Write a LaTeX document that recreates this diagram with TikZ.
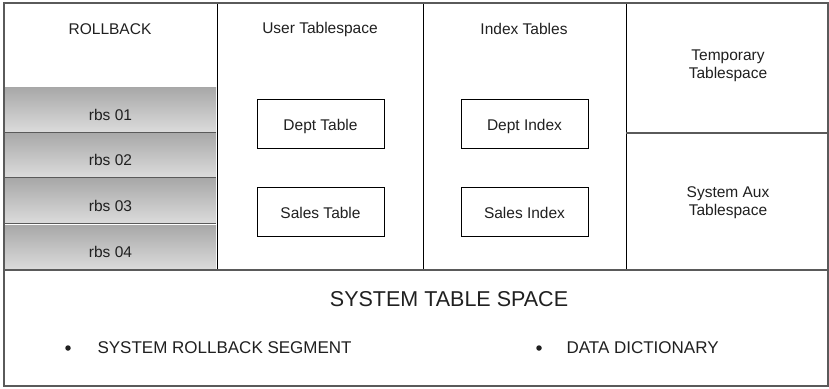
\documentclass[tikz,border=0pt]{standalone}
\usepackage{fontspec}
\setmainfont{Liberation Sans}
\definecolor{framegray}{HTML}{5A5A5A}
\definecolor{rbstop}{HTML}{A8A8A8}
\definecolor{rbsbottom}{HTML}{DCDCDC}
\definecolor{inktext}{HTML}{202020}
\begin{document}
\begin{tikzpicture}[x=1pt,y=-1pt,
  every node/.style={text=inktext, font=\fontsize{15.5}{18}\selectfont},
  frameline/.style={draw=framegray, line width=1.4pt},
  divider/.style={draw=black, line width=0.9pt},
  segbar/.style={draw=none, minimum width=211pt, minimum height=45pt,
    inner sep=0pt, top color=rbstop, bottom color=rbsbottom, shading angle=0},
  seglabel/.style={yshift=-4.5pt},
  segline/.style={draw=framegray, line width=1.2pt},
  tablebox/.style={draw=black, line width=0.9pt, fill=white,
    minimum width=127pt, minimum height=49pt, inner sep=0pt,
    text height=16pt, text depth=3pt},
  heading/.style={align=center, font=\fontsize{15.5}{18}\selectfont},
  bigtitle/.style={font=\fontsize{21.5}{26}\selectfont},
  bullettext/.style={anchor=west, font=\fontsize{17}{20}\selectfont},
  dot/.style={circle, fill=inktext, inner sep=0pt, minimum size=5.5pt}]
\useasboundingbox (0,0) rectangle (829,388);
\fill[white] (0,0) rectangle (829,388);

% rollback segments
\node[segbar] (rbs1) at (110.5,110) {};
\node[segbar] (rbs2) at (110.5,155) {};
\node[segbar] (rbs3) at (110.5,201) {};
\node[segbar] (rbs4) at (110.5,247.5) {};
\node[seglabel] (rbs1t) at (rbs1) {rbs 01};
\node[seglabel] (rbs2t) at (rbs2) {rbs 02};
\node[seglabel] (rbs3t) at (rbs3) {rbs 03};
\node[seglabel] (rbs4t) at (rbs4) {rbs 04};
\draw[segline] (rbs1.south west) -- (rbs1.south east);
\draw[segline] (rbs2.south west) -- (rbs2.south east);
\draw[segline] (rbs3.south west) -- (rbs3.south east);

% column dividers
\draw[divider] (217,3) -- (217,270);
\draw[divider] (423,3) -- (423,270);
\draw[divider] (626,3) -- (626,270);
\draw[draw=framegray, line width=1.1pt] (626,133) -- (828,133);

% outer frame and system table space separator
\draw[frameline] (4,3) rectangle (828,386);
\draw[frameline] (4,270) -- (828,270);

% headings
\node[heading] (rollback) at (110,29) {ROLLBACK};
\node[heading] (usertbs) at (320,29) {User Tablespace};
\node[heading] (idxtbs) at (524,29) {Index Tables};
\node[heading] (temptbs) at (728,66) {Temporary\\Tablespace};
\node[heading] (auxtbs) at (728,203) {System Aux\\Tablespace};

% tables and indexes
\node[tablebox] (dept) at (320.5,123.5) {Dept Table};
\node[tablebox] (sales) at (320.5,212) {Sales Table};
\node[tablebox] (deptidx) at (524.5,123.5) {Dept Index};
\node[tablebox] (salesidx) at (524.5,212) {Sales Index};

% system table space
\node[bigtitle] (systbs) at (449,299) {SYSTEM TABLE SPACE};
\node[dot] (b1) at (68,348) {};
\node[bullettext] (sysrbs) at (94,348) {SYSTEM ROLLBACK SEGMENT};
\node[dot] (b2) at (539,348) {};
\node[bullettext] (dict) at (563,348) {DATA DICTIONARY};
\end{tikzpicture}
\end{document}
